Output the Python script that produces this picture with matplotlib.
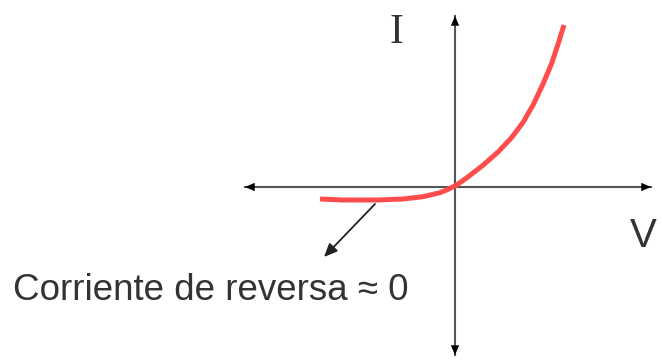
import numpy as np
import matplotlib
matplotlib.use("Agg")
import matplotlib.pyplot as plt

# curva del diodo (unidades arbitrarias, origen en el cruce de ejes)
v = [-13.5, -11.2, -7.8, -5.2, -3.2, -1.5, -0.83, 0.17, 1.33, 2.83, 4.33,
     5.67, 6.83, 7.83, 8.83, 9.67, 10.33, 10.9]
i = [-1.2, -1.3, -1.3, -1.2, -0.97, -0.57, -0.3, 0.2, 1.03, 2.2, 3.53,
     4.95, 6.5, 8.25, 10.37, 12.37, 14.37, 16.2]

x_axis = [-21.0, 19.6]
y_axis = [-16.8, 17.1]

label_v = "V"
label_i = "I"
nota = "Corriente de reversa \u2248 0"
nota_desde = (-8.0, -1.7)
nota_hasta = (-13.1, -7.0)

fig = plt.figure(figsize=(6.62, 3.60), dpi=100)
ax = fig.add_axes([0, 0, 1, 1])
ax.set_xlim(-45.5, 20.7)
ax.set_ylim(-17.3, 18.7)
ax.axis("off")

# ejes con flechas
ax.plot(x_axis, [0, 0], color="#555555", lw=1.5, zorder=1)
ax.plot([0, 0], y_axis, color="#555555", lw=1.5, zorder=1)
head = dict(arrowstyle="-|>,head_length=0.7,head_width=0.3", color="black", lw=0, shrinkA=0, shrinkB=0)
ax.annotate("", xy=(x_axis[0], 0), xytext=(x_axis[0] + 1.5, 0), arrowprops=head)
ax.annotate("", xy=(x_axis[1], 0), xytext=(x_axis[1] - 1.5, 0), arrowprops=head)
ax.annotate("", xy=(0, y_axis[1]), xytext=(0, y_axis[1] - 1.5), arrowprops=head)
ax.annotate("", xy=(0, y_axis[0]), xytext=(0, y_axis[0] + 1.5), arrowprops=head)

# curva
ax.plot(v, i, color="#ff4d4d", lw=3.6, solid_capstyle="butt",
        solid_joinstyle="round", zorder=3)

# etiquetas
ax.text(-5.9, 14.4, label_i, family="Liberation Serif", fontsize=30,
        color="#333333", ha="center", va="baseline")
ax.text(17.5, -6.0, label_v, family="Liberation Sans", fontsize=29,
        color="#333333", ha="left", va="baseline")

ax.annotate("", xy=nota_hasta, xytext=nota_desde,
            arrowprops=dict(arrowstyle="-|>,head_length=0.8,head_width=0.35",
                            color="#222222", lw=1.3, shrinkA=0, shrinkB=0))
ax.text(-44.2, -11.3, nota, family=["Liberation Sans", "DejaVu Sans"], fontsize=26.5,
        color="#333333", ha="left", va="baseline")

fig.savefig("out.png", dpi=100)
